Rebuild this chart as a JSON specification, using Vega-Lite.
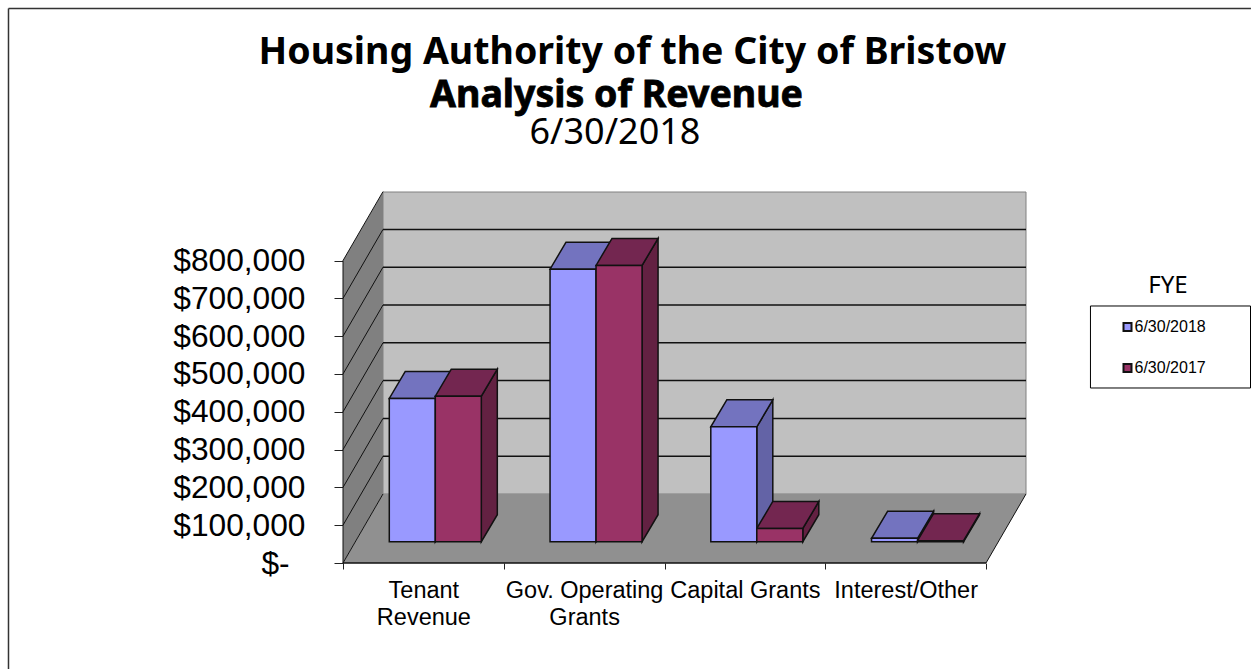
{
"$schema":"https://vega.github.io/schema/vega-lite/v6.json",
"width":683,"height":371,
"autosize":{"type":"none"},
"padding":{"left":343,"top":192,"right":225,"bottom":106},
"background":"white",
"config":{"view":{"stroke":null}},
"title":{"text":"Housing Authority of the City of Bristow","font":"Noto Sans","fontSize":37.5,"fontWeight":"bold","color":"black","anchor":"middle","dx":-52,"offset":-94,"baseline":"alphabetic"},
"datasets":{
"bars":[
{"category":"Tenant Revenue","fye":"6/30/2018","value":379000},
{"category":"Gov. Operating Grants","fye":"6/30/2018","value":721000},
{"category":"Capital Grants","fye":"6/30/2018","value":304000},
{"category":"Interest/Other","fye":"6/30/2018","value":9000},
{"category":"Tenant Revenue","fye":"6/30/2017","value":385000},
{"category":"Gov. Operating Grants","fye":"6/30/2017","value":731000},
{"category":"Capital Grants","fye":"6/30/2017","value":35000},
{"category":"Interest/Other","fye":"6/30/2017","value":2600}
],
"grid":[{"v":0},{"v":100000},{"v":200000},{"v":300000},{"v":400000},{"v":500000},{"v":600000},{"v":700000},{"v":800000}],
"depth":[{"t":0},{"t":1}],
"one":[{"k":1}]
},
"layer":[
{"data":{"name":"one"},"mark":{"type":"rect","fill":"#c0c0c0","stroke":"#808080","strokeWidth":1},
"encoding":{
"x":{"datum":0.2488,"type":"quantitative","title":null,"scale":{"domain":[0,4.2488],"nice":false,"zero":false},
"axis":{"values":[0,0.5,1,1.5,2,2.5,3,3.5,4],"title":null,"grid":false,"domain":false,"tickColor":"#222222","tickSize":6,"tickOpacity":{"condition":{"test":"datum.value % 1 != 0","value":0},"value":1},
"labelExpr":"datum.value==0.5?['Tenant','Revenue']:datum.value==1.5?['Gov. Operating','Grants']:datum.value==2.5?['Capital Grants']:datum.value==3.5?['Interest/Other']:''",
"labelFont":"Liberation Sans","labelFontSize":23.5,"labelColor":"black","labelLineHeight":27,"labelPadding":9,"labelOverlap":false,"labelFlush":false,"labelBound":false,"labelBaseline":"top","labelAngle":0}},
"x2":{"datum":4.2488},
"y":{"datum":182540,"type":"quantitative","title":null,"scale":{"domain":[0,981481],"nice":false,"zero":false},
"axis":{"values":[0,100000,200000,300000,400000,500000,600000,700000,800000],"title":null,"grid":false,"domain":false,"tickColor":"#222222","tickSize":9,
"labelExpr":"datum.value==0?'$-\u2002\u200b':format(datum.value,'$,.0f')",
"labelFont":"Liberation Sans","labelFontSize":31.7,"labelColor":"black","labelPadding":29,"labelOverlap":false,"labelBound":false,"labelFlush":false}},
"y2":{"datum":981481}
}},
{"data":{"name":"depth"},"transform":[{"calculate":"datum.t*0.2488","as":"x"},{"calculate":"datum.t*182540","as":"y0"},{"calculate":"800000+datum.t*181481","as":"y1"}],
"mark":{"type":"area","fill":"#808080","orient":"vertical"},
"encoding":{"x":{"field":"x","type":"quantitative","title":null,"scale":{"domain":[0,4.2488],"nice":false,"zero":false}},
"y":{"field":"y1","type":"quantitative","title":null,"scale":{"domain":[0,981481],"nice":false,"zero":false}},
"y2":{"field":"y0"}}},
{"data":{"name":"depth"},"transform":[{"calculate":"datum.t*0.2488","as":"x"},{"calculate":"4+datum.t*0.2488","as":"xr"},{"calculate":"datum.t*182540","as":"y0"}],
"mark":{"type":"area","fill":"#909090","orient":"horizontal"},
"encoding":{"y":{"field":"y0","type":"quantitative","title":null,"scale":{"domain":[0,981481],"nice":false,"zero":false}},
"x":{"field":"x","type":"quantitative","title":null,"scale":{"domain":[0,4.2488],"nice":false,"zero":false}},
"x2":{"field":"xr"}}},
{"data":{"name":"grid"},"transform":[{"calculate":"datum.v+182540","as":"yb"}],
"mark":{"type":"rule","stroke":"#111111","strokeWidth":1},
"encoding":{"x":{"datum":0,"type":"quantitative","title":null,"scale":{"domain":[0,4.2488],"nice":false,"zero":false}},"x2":{"datum":0.2488},
"y":{"field":"v","type":"quantitative","title":null,"scale":{"domain":[0,981481],"nice":false,"zero":false}},"y2":{"field":"yb"}}},
{"data":{"name":"grid"},"transform":[{"filter":"datum.v>0 && datum.v<800000"},{"calculate":"datum.v+182540","as":"yb"}],
"mark":{"type":"rule","stroke":"#111111","strokeWidth":1.5},
"encoding":{"x":{"datum":0.2488,"type":"quantitative","title":null,"scale":{"domain":[0,4.2488],"nice":false,"zero":false}},"x2":{"datum":4.2488},
"y":{"field":"yb","type":"quantitative","title":null,"scale":{"domain":[0,981481],"nice":false,"zero":false}}}},
{"data":{"name":"one"},"mark":{"type":"rule","stroke":"#111111","strokeWidth":1.5},
"encoding":{"x":{"datum":0,"type":"quantitative","title":null,"scale":{"domain":[0,4.2488],"nice":false,"zero":false}},"x2":{"datum":4},
"y":{"datum":0,"type":"quantitative","title":null,"scale":{"domain":[0,981481],"nice":false,"zero":false}}}},
{"data":{"name":"one"},"mark":{"type":"rule","stroke":"#111111","strokeWidth":1},
"encoding":{"x":{"datum":0,"type":"quantitative","title":null,"scale":{"domain":[0,4.2488],"nice":false,"zero":false}},
"y":{"datum":0,"type":"quantitative","title":null,"scale":{"domain":[0,981481],"nice":false,"zero":false}},"y2":{"datum":800000}}},
{"data":{"name":"one"},"mark":{"type":"rule","stroke":"#111111","strokeWidth":1},
"encoding":{"x":{"datum":4,"type":"quantitative","title":null,"scale":{"domain":[0,4.2488],"nice":false,"zero":false}},"x2":{"datum":4.2488},
"y":{"datum":0,"type":"quantitative","title":null,"scale":{"domain":[0,981481],"nice":false,"zero":false}},"y2":{"datum":182540}}},
{"data":{"name":"bars"},"transform":[
{"calculate":"indexof(['Tenant Revenue','Gov. Operating Grants','Capital Grants','Interest/Other'],datum.category)+0.288+(datum.fye=='6/30/2018'?0:0.2862)","as":"L"},
{"calculate":"datum.L+0.2862","as":"R"},
{"calculate":"[0,1]","as":"t"},{"flatten":["t"]},
{"calculate":"datum.R+datum.t*0.0995","as":"sx"},
{"calculate":"56300+datum.value+datum.t*71429","as":"sTop"},
{"calculate":"56300+datum.t*71429","as":"sBase"},
{"calculate":"datum.fye=='6/30/2018'?'#6363a6':'#632142'","as":"shade"}],
"mark":{"type":"area","orient":"vertical","stroke":"#111111","strokeWidth":1.5},
"encoding":{"detail":{"field":"L"},
"fill":{"field":"shade","type":"nominal","scale":null},
"x":{"field":"sx","type":"quantitative","title":null,"scale":{"domain":[0,4.2488],"nice":false,"zero":false}},
"y":{"field":"sTop","type":"quantitative","title":null,"scale":{"domain":[0,981481],"nice":false,"zero":false}},
"y2":{"field":"sBase"}}},
{"data":{"name":"bars"},"transform":[
{"calculate":"indexof(['Tenant Revenue','Gov. Operating Grants','Capital Grants','Interest/Other'],datum.category)+0.288+(datum.fye=='6/30/2018'?0:0.2862)","as":"L"},
{"calculate":"datum.L+0.2862","as":"R"},
{"calculate":"[0,1]","as":"t"},{"flatten":["t"]},
{"calculate":"datum.L+datum.t*0.0995","as":"tl"},
{"calculate":"datum.R+datum.t*0.0995","as":"tr"},
{"calculate":"56300+datum.value+datum.t*71429","as":"ty"},
{"calculate":"datum.fye=='6/30/2018'?'#7373bf':'#732650'","as":"shade"}],
"mark":{"type":"area","orient":"horizontal","stroke":"#111111","strokeWidth":1.5},
"encoding":{"detail":{"field":"L"},
"fill":{"field":"shade","type":"nominal","scale":null},
"y":{"field":"ty","type":"quantitative","title":null,"scale":{"domain":[0,981481],"nice":false,"zero":false}},
"x":{"field":"tl","type":"quantitative","title":null,"scale":{"domain":[0,4.2488],"nice":false,"zero":false}},
"x2":{"field":"tr"}}},
{"data":{"name":"one"},"mark":{"type":"rect","fill":"white","stroke":"black","strokeWidth":1},
"encoding":{"x":{"datum":4.6498,"type":"quantitative","title":null,"scale":{"domain":[0,4.2488],"nice":false,"zero":false}},"x2":{"datum":5.6454},
"y":{"datum":679895,"type":"quantitative","title":null,"scale":{"domain":[0,981481],"nice":false,"zero":false}},"y2":{"datum":462963}}},
{"data":{"name":"bars"},"transform":[
{"calculate":"indexof(['Tenant Revenue','Gov. Operating Grants','Capital Grants','Interest/Other'],datum.category)+0.288+(datum.fye=='6/30/2018'?0:0.2862)","as":"L"},
{"calculate":"datum.L+0.2862","as":"R"},
{"calculate":"56300+datum.value","as":"top"},
{"calculate":"56300","as":"base"}],
"mark":{"type":"rect","stroke":"#111111","strokeWidth":1.5},
"encoding":{
"color":{"field":"fye","type":"nominal","sort":["6/30/2018","6/30/2017"],"scale":{"domain":["6/30/2018","6/30/2017"],"range":["#9999ff","#993366"]},
"legend":{"title":null,"orient":"none","legendX":776.5,"legendY":127,"symbolType":"square","symbolSize":64,"symbolStrokeColor":"#111111","symbolStrokeWidth":2,"labelFont":"Liberation Sans","labelFontSize":16,"labelColor":"black","labelOffset":-1,"rowPadding":25,"padding":0,"symbolOpacity":1}},
"x":{"field":"L","type":"quantitative","title":null,"scale":{"domain":[0,4.2488],"nice":false,"zero":false}},"x2":{"field":"R"},
"y":{"field":"top","type":"quantitative","title":null,"scale":{"domain":[0,981481],"nice":false,"zero":false}},"y2":{"field":"base"}}},
{"data":{"name":"one"},"mark":{"type":"rule","stroke":"#333333","strokeWidth":1.5},
"encoding":{"x":{"datum":-2.0809,"type":"quantitative","title":null,"scale":{"domain":[0,4.2488],"nice":false,"zero":false}},
"y":{"datum":1466932,"type":"quantitative","title":null,"scale":{"domain":[0,981481],"nice":false,"zero":false}},"y2":{"datum":-283069}}},
{"data":{"name":"one"},"mark":{"type":"rule","stroke":"#333333","strokeWidth":1.5},
"encoding":{"x":{"datum":-2.0809,"type":"quantitative","title":null,"scale":{"domain":[0,4.2488],"nice":false,"zero":false}},"x2":{"datum":5.648},
"y":{"datum":1466932,"type":"quantitative","title":null,"scale":{"domain":[0,981481],"nice":false,"zero":false}}}},
{"data":{"name":"one"},"mark":{"type":"text","text":"Analysis of Revenue","font":"Noto Sans","fontWeight":"bold","fontSize":37.5,"color":"black","stroke":"black","strokeWidth":0.8,"align":"center","baseline":"middle"},
"encoding":{"x":{"datum":1.7014,"type":"quantitative","title":null,"scale":{"domain":[0,4.2488],"nice":false,"zero":false}},
"y":{"datum":1234127,"type":"quantitative","title":null,"scale":{"domain":[0,981481],"nice":false,"zero":false}}}},
{"data":{"name":"one"},"mark":{"type":"text","text":"6/30/2018","font":"Noto Sans","fontSize":36,"color":"black","align":"center","baseline":"middle"},
"encoding":{"x":{"datum":1.692,"type":"quantitative","title":null,"scale":{"domain":[0,4.2488],"nice":false,"zero":false}},
"y":{"datum":1137566,"type":"quantitative","title":null,"scale":{"domain":[0,981481],"nice":false,"zero":false}}}},
{"data":{"name":"one"},"mark":{"type":"text","text":"FYE","font":"Noto Sans","fontSize":24,"color":"black","align":"center","baseline":"middle"},
"encoding":{"x":{"datum":5.1322,"type":"quantitative","title":null,"scale":{"domain":[0,4.2488],"nice":false,"zero":false}},
"y":{"datum":732804,"type":"quantitative","title":null,"scale":{"domain":[0,981481],"nice":false,"zero":false}}}}
]
}
